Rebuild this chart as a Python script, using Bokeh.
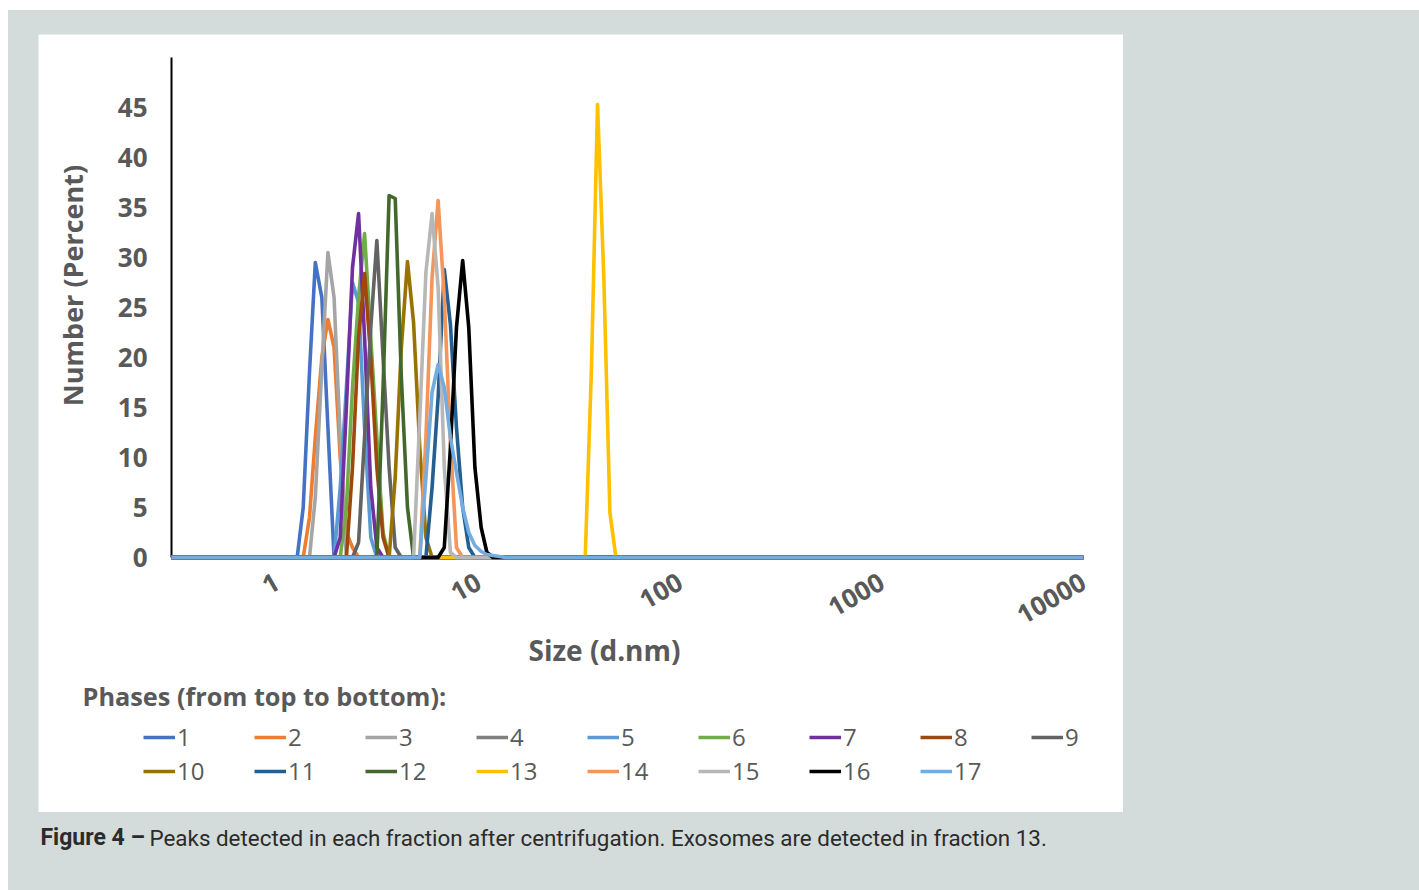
import math
from bokeh.plotting import figure
from bokeh.models import (Range1d, FixedTicker, NumeralTickFormatter, Legend,
                          LegendItem, Label, Spacer)
from bokeh.layouts import column, row
from bokeh.embed import file_html
from bokeh.resources import INLINE

# ---------------- data ----------------
# size classes (d.nm) used by the measured distributions
size_nm = [1.17, 1.26, 1.35, 1.45, 1.55, 1.67, 1.79, 1.92, 2.06, 2.21,
           2.37, 2.54, 2.72, 2.92, 3.13, 3.36, 3.60, 3.86, 4.14, 4.44,
           4.76, 5.11, 5.48, 5.88, 6.30, 6.76, 7.25, 7.77, 8.34, 8.94,
           9.59, 10.3, 11.0, 11.8, 12.7, 13.6, 14.6, 15.7, 16.8, 18.0,
           19.3, 20.7, 22.2, 23.8, 25.6, 27.4, 29.4, 31.6, 33.8, 36.3,
           38.9, 41.8, 44.8, 48.0]
size_min = 0.3
size_max = 10000

phase_names = ["1", "2", "3", "4", "5", "6", "7", "8", "9", "10",
               "11", "12", "13", "14", "15", "16", "17"]
phase_colors = ["#4472C4", "#ED7D31", "#A5A5A5", "#7F7F7F", "#5B9BD5",
                "#70AD47", "#7030A0", "#9E480E", "#636363", "#997300",
                "#255E91", "#43682B", "#FFC000", "#F4955A", "#B7B7B7",
                "#000000", "#74ACDF"]
# index into size_nm of the first listed value of each phase
phase_first = [1, 2, 3, 9, 7, 8, 7, 9, 10, 16, 22, 14, 48, 21, 20, 24, 21]
phase_values = [
    [0, 5, 18.5, 29.5, 26, 13, 0],
    [0, 4, 12, 20, 23.8, 21, 10, 2.5, 1, 0],
    [0, 6, 19, 30.5, 26, 12, 0],
    [0, 0],
    [0, 7, 17, 27.5, 25.5, 13, 2, 0],
    [0, 5, 17, 26, 32.4, 22, 12, 2.5, 0],
    [0, 2, 15, 29, 34.4, 22, 7, 1, 0],
    [0, 9, 22, 28.4, 20, 9, 2, 0],
    [0, 1.5, 12, 23, 31.7, 20, 9, 1, 0],
    [0, 8, 21, 29.6, 23.5, 11, 2, 0],
    [0, 7, 16, 28.8, 23.3, 13, 5, 1, 0],
    [0, 17, 36.2, 35.9, 18, 5, 0],
    [0, 19, 45.3, 28, 4.5, 0],
    [0, 12, 28, 35.7, 26, 11.5, 1, 0],
    [0, 14, 28.5, 34.4, 27, 9, 0.5, 0],
    [0, 1, 11, 23, 29.7, 23, 9, 3, 0.5, 0],
    [0, 8, 16.5, 19.3, 17, 12, 8.5, 5, 2.5, 1.2, 0.6, 0.3, 0.2, 0.1, 0],
]
y_max = 50
y_ticks = [0, 5, 10, 15, 20, 25, 30, 35, 40, 45]
x_ticks = [1, 10, 100, 1000, 10000]

title_y = "Number (Percent)"
title_x = "Size (d.nm)"
legend_title = "Phases (from top to bottom):"
caption_bold = "Figure 4 \u2013"
caption_text = "Peaks detected in each fraction after centrifugation. Exosomes are detected in fraction 13."

# ---------------- layout (pixels inside the white panel) ----------------
PW, PH = 1085, 778          # white panel
AX_L, AX_R = 133, 1045      # x pixel of size_min / size_max
AX_B, AX_T = 523, 23        # y pixel (from top) of 0 / y_max

ppd = (AX_R - AX_L) / math.log10(size_max / size_min)
x_lo = size_min / 10 ** (AX_L / ppd)
x_hi = size_max * 10 ** ((PW - AX_R) / ppd)
ppu = (AX_B - AX_T) / y_max
y_lo = -(PH - AX_B) / ppu
y_hi = y_max + AX_T / ppu

BG = "#D3DCDA"
TXT = "#595959"
FONT = "Open Sans"

p = figure(width=PW, height=PH, x_axis_type="log",
           x_range=Range1d(x_lo, x_hi), y_range=Range1d(y_lo, y_hi),
           output_backend="svg", toolbar_location=None, min_border=0)
p.background_fill_color = "white"
p.border_fill_color = "white"
p.outline_line_color = None
p.grid.visible = False

items = []
for name, color, first, vals in zip(phase_names, phase_colors, phase_first, phase_values):
    xs = [size_min] + size_nm[first:first + len(vals)] + [size_max]
    ys = [0] + list(vals) + [0]
    r = p.line(xs, ys, line_color=color, line_width=3.6, line_join="round")
    items.append(LegendItem(label=name, renderers=[r]))

# y axis (drawn at size_min)
ya = p.yaxis[0]
ya.level = "underlay"
ya.fixed_location = size_min
ya.bounds = (0, y_max)
ya.ticker = FixedTicker(ticks=y_ticks)
ya.axis_line_color = "black"
ya.axis_line_width = 2
ya.major_tick_out = 0
ya.major_tick_in = 0
ya.minor_tick_out = 0
ya.minor_tick_in = 0
ya.major_label_standoff = 24
ya.major_label_text_font = FONT
ya.major_label_text_font_size = "26px"
ya.major_label_text_font_style = "bold"
ya.major_label_text_color = TXT

# x axis (drawn at 0)
xa = p.xaxis[0]
xa.level = "underlay"
xa.fixed_location = 0
xa.bounds = (size_min, size_max)
xa.ticker = FixedTicker(ticks=x_ticks)
xa.formatter = NumeralTickFormatter(format="0")
xa.axis_line_color = "black"
xa.axis_line_width = 2
xa.major_tick_out = 0
xa.major_tick_in = 0
xa.minor_tick_out = 0
xa.minor_tick_in = 0
xa.major_label_orientation = math.pi / 6
xa.major_label_standoff = 22
xa.major_label_text_font = FONT
xa.major_label_text_font_size = "26px"
xa.major_label_text_font_style = "bold"
xa.major_label_text_color = TXT

# axis titles
p.add_layout(Label(x=34, y=PH - 251, x_units="screen", y_units="screen",
                   text=title_y, angle=math.pi / 2, text_align="center",
                   text_baseline="middle", text_font=FONT, text_font_size="27px",
                   text_font_style="bold", text_color=TXT))
p.add_layout(Label(x=566, y=PH - 615, x_units="screen", y_units="screen",
                   text=title_x, text_align="center", text_baseline="middle",
                   text_font=FONT, text_font_size="28px",
                   text_font_style="bold", text_color=TXT))

# legend title and legend
p.add_layout(Label(x=44, y=PH - 661, x_units="screen", y_units="screen",
                   text=legend_title, text_align="left", text_baseline="middle",
                   text_font=FONT, text_font_size="25.3px",
                   text_font_style="bold", text_color=TXT))

legend = Legend(items=items, orientation="horizontal", ncols=9,
                location=(105, 25),
                label_text_font=FONT, label_text_font_size="24px",
                label_text_color=TXT, glyph_width=32, glyph_height=20,
                label_standoff=2, label_width=76, label_height=28,
                spacing=1, padding=0, margin=0,
                border_line_color=None, background_fill_alpha=0)
p.add_layout(legend)

# caption
cap = figure(width=1411, height=78, x_range=Range1d(0, 1), y_range=Range1d(0, 1),
             output_backend="svg", toolbar_location=None, min_border=0)
cap.axis.visible = False
cap.grid.visible = False
cap.outline_line_color = None
cap.background_fill_color = BG
cap.border_fill_color = BG
CAPFONT = "Roboto"
cap.add_layout(Label(x=32, y=53, x_units="screen", y_units="screen",
                     text=caption_bold, text_align="left", text_baseline="middle",
                     text_font=CAPFONT, text_font_size="23px",
                     text_font_style="bold", text_color="#2B2B2B"))
cap.add_layout(Label(x=141, y=53, x_units="screen", y_units="screen",
                     text=caption_text, text_align="left", text_baseline="middle",
                     text_font=CAPFONT, text_font_size="22.4px",
                     text_color="#2B2B2B"))


def sp(w, h, color):
    return Spacer(width=w, height=h, styles={"background-color": color})


gray_block = column(sp(1411, 24, BG), row(sp(30, PH, BG), p, sp(296, PH, BG)), cap,
                    styles={"background-color": BG})
layout = column(sp(1419, 10, "white"), row(sp(8, 880, "white"), gray_block),
                styles={"background-color": "white"})

open("out.html", "w").write(file_html(layout, INLINE))
